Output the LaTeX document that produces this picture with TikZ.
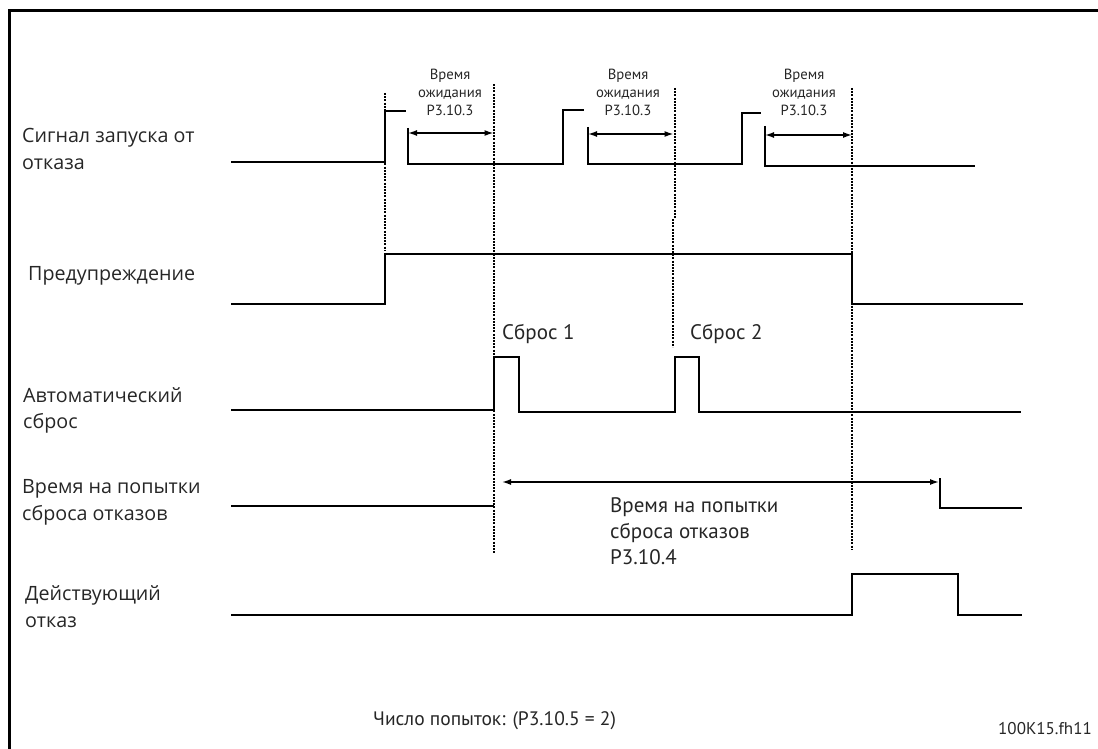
\documentclass[tikz,border=0pt]{standalone}
\usepackage{fontspec}
\setmainfont{Open Sans}
\newfontfamily\dinfont{PT Sans}
\usetikzlibrary{arrows.meta}
\tikzset{
  sig/.style={line width=1.7pt, line join=miter, line cap=butt},
  guide/.style={line width=2pt, dash pattern=on 2pt off 1.2pt},
  dim/.style={line width=1.5pt, {Latex[length=9pt,width=6pt]}-{Latex[length=9pt,width=6pt]}},
  lab/.style={anchor=base west, inner sep=0pt, font=\fontsize{19.7}{22}\selectfont, text=black!85},
  small/.style={anchor=base, inner sep=0pt, font=\dinfont\fontsize{14.7}{17}\selectfont, text=black!85},
  mid/.style={anchor=base west, inner sep=0pt, font=\dinfont\fontsize{21}{24}\selectfont, text=black!85}
}
\begin{document}
\begin{tikzpicture}[x=1pt,y=-1pt]
\useasboundingbox (0,0) rectangle (1098,749);
% frame (left and top edges only)
\draw[line width=3pt] (9,749) -- (9,10.5) -- (1098,10.5);

% guide lines
\draw[guide] (385,93) -- (385,250);
\draw[guide] (493.5,84) -- (493.5,553);
\draw[guide] (675,88) -- (675,218);
\draw[guide] (673,219) -- (673,347);
\draw[guide] (852,88) -- (852,549);

% Row 1: start signal from fault
\draw[sig] (231,162) -- (385,162) -- (385,111) -- (406,111);
\draw[sig] (408,128) -- (408,164) -- (563,164) -- (563,110) -- (584,110);
\draw[sig] (588,127) -- (588,164) -- (742,164) -- (742,113) -- (761,113);
\draw[sig] (765,126) -- (765,166) -- (975,166);
\coordinate (a1) at (408,133); \coordinate (b1) at (493.5,133);
\coordinate (a2) at (588,134); \coordinate (b2) at (673.5,134);
\coordinate (a3) at (765,135); \coordinate (b3) at (852,135);
\draw[dim] (a1) -- (b1);
\draw[dim] (a2) -- (b2);
\draw[dim] (a3) -- (b3);
\foreach \n/\x in {w1/450,w2/628,w3/804}{
  \node[small] (\n a) at (\x,80) {Время};
  \node[small] (\n b) at (\x,98) {ожидания};
  \node[small] (\n c) at (\x,115.5) {P3.10.3};
}

% Row 2: warning
\draw[sig] (231,304) -- (385,304) -- (385,254) -- (852,254) -- (852,304) -- (1023,304);

% Row 3: automatic reset
\draw[sig] (231,410) -- (494,410) -- (494,357) -- (519,357) -- (519,412) -- (675,412) -- (675,357) -- (699,357) -- (699,412) -- (1021,412);
\node[mid] (r1) at (502,339) {Сброс 1};
\node[mid] (r2) at (690,339) {Сброс 2};

% Row 4: trial time
\draw[sig] (231,506) -- (493.5,506);
\coordinate (t1) at (502,482); \coordinate (t2) at (939,482);
\draw[dim] (t1) -- (t2);
\draw[sig] (940,478) -- (940,508) -- (1022,508);
\node[mid] (tt1) at (610,512) {Время на попытки};
\node[mid] (tt2) at (610,538) {сброса отказов};
\node[mid] (tt3) at (610,564) {P3.10.4};

% Row 5: active fault
\draw[sig] (231,615) -- (852,615) -- (852,574) -- (958,574) -- (958,615) -- (1022,615);

% left labels
\node[lab] (l1a) at (22,143) {Сигнал запуска от};
\node[lab] (l1b) at (22,170) {отказа};
\node[lab] (l2) at (28,280) {Предупреждение};
\node[lab] (l3a) at (23,402) {Автоматический};
\node[lab] (l3b) at (23,428) {сброс};
\node[lab] (l4a) at (22,493) {Время на попытки};
\node[lab] (l4b) at (22,520) {сброса отказов};
\node[lab] (l5a) at (25,600) {Действующий};
\node[lab] (l5b) at (25,627) {отказ};

% bottom texts
\node[anchor=base west, inner sep=0pt, font=\dinfont\fontsize{19.5}{22}\selectfont, text=black!85] (cnt) at (373,725) {Число попыток: (P3.10.5 = 2)};
\node[anchor=base east, inner sep=0pt, font=\dinfont\fontsize{17}{20}\selectfont, text=black!85] (code) at (1092,734) {100K15.fh11};
\end{tikzpicture}
\end{document}
